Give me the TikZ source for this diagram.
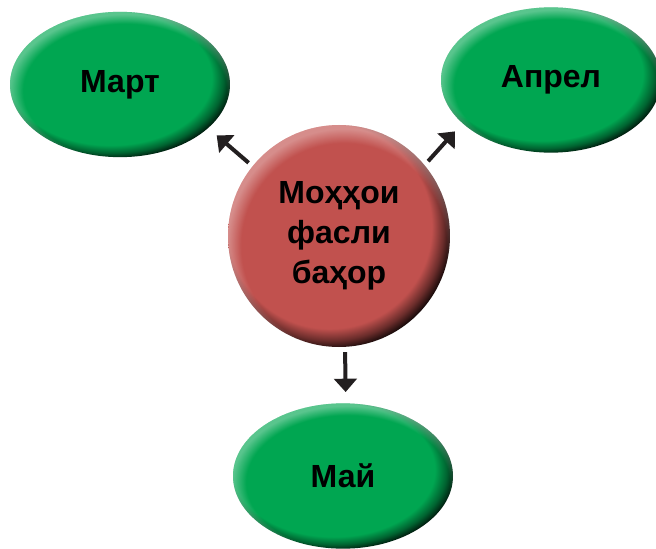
\documentclass[tikz,border=0pt]{standalone}
\usepackage{fontspec}
\setmainfont{Liberation Sans}
\usetikzlibrary{arrows.meta,fadings,shapes.geometric}

\definecolor{btngreen}{RGB}{0,166,81}
\definecolor{btnred}{RGB}{193,81,78}
\definecolor{arrowgray}{RGB}{35,31,32}

% glossy button shadings: dark rim bottom right, light rim top left
\pgfdeclareradialshading{greenbtn}{\pgfpoint{-4bp}{4bp}}{color(0bp)=(btngreen); color(23bp)=(btngreen); color(25.5bp)=(btngreen!60!black); color(27.5bp)=(btngreen!15!black); color(50bp)=(btngreen!15!black)}
\pgfdeclareradialshading{redbtn}{\pgfpoint{-4bp}{4bp}}{color(0bp)=(btnred); color(23bp)=(btnred); color(25.5bp)=(btnred!55!black); color(27.5bp)=(btnred!10!black); color(50bp)=(btnred!10!black)}
\pgfdeclareradialshading{rimglowshade}{\pgfpoint{2bp}{-4bp}}{color(0bp)=(black); color(23bp)=(black); color(26bp)=(black!65); color(50bp)=(black!65)}
\pgfdeclarefading{rimglow}{\pgfuseshading{rimglowshade}}

\tikzset{every picture/.style={line width=0.75pt}}
\tikzset{
  button/.style={shade, shading=#1, postaction={fill=white, path fading=rimglow},
    inner sep=0pt, outer sep=4pt, text=black, align=center,
    font=\fontsize{24}{30}\selectfont\bfseries},
  month/.style={button=greenbtn, ellipse, minimum width=165pt, minimum height=109pt},
  season/.style={button=redbtn, circle, minimum size=166.5pt},
  arr/.style={-{Triangle[length=10pt,width=17pt]}, line width=3pt, draw=arrowgray, shorten >=4.5pt}
}

\begin{document}
\begin{tikzpicture}[x=0.75pt,y=0.75pt,yscale=-1,xscale=1]
\useasboundingbox (0,0) rectangle (656,549);

% Season circle
\node[season] (spring) at (339,236) {Моҳҳои\\фасли\\баҳор};

% Months
\node[month] (mart) at (120,84.5) {Март};
\node[month] (aprel) at (551,80) {Апрел};
\node[month] (may) at (343,476) {Май};

% Arrows
\draw[arr] (spring.141) -- (mart.-27);
\draw[arr] (spring.40) -- (aprel.207);
\draw[arr] (spring.-87) -- (may.88);

\end{tikzpicture}
\end{document}
